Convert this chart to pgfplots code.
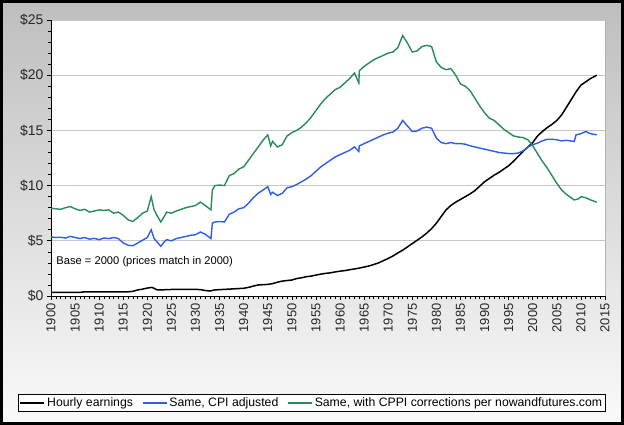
\documentclass[border=0pt]{standalone}
\usepackage{fontspec}
\setmainfont{Liberation Sans}
\usepackage{pgfplots}
\usepackage{pgfplotstable}
\pgfplotsset{compat=1.18}

\definecolor{earn}{RGB}{0,0,0}
\definecolor{cpi}{RGB}{45,95,230}
\definecolor{cppi}{RGB}{40,140,90}

% hourly earnings, base 2000
\pgfplotstableread{
year val
1900 0.32
1906 0.33
1907 0.38
1916 0.38
1917 0.42
1918 0.55
1919 0.62
1920 0.72
1921 0.78
1922 0.56
1923 0.55
1924 0.58
1926 0.60
1930 0.60
1931 0.58
1932 0.50
1933 0.45
1934 0.55
1936 0.60
1938 0.65
1940 0.70
1941 0.78
1942 0.90
1943 1.00
1945 1.05
1946 1.12
1947 1.25
1948 1.35
1949 1.40
1950 1.45
1951 1.58
1952 1.65
1953 1.75
1954 1.80
1955 1.90
1956 1.98
1957 2.05
1958 2.10
1959 2.18
1960 2.25
1961 2.30
1962 2.38
1963 2.45
1964 2.53
1965 2.62
1966 2.72
1967 2.85
1968 3.00
1969 3.20
1970 3.40
1971 3.63
1972 3.90
1973 4.15
1974 4.45
1975 4.75
1976 5.05
1977 5.35
1978 5.70
1979 6.10
1980 6.60
1981 7.20
1982 7.80
1983 8.20
1984 8.50
1985 8.75
1986 9.00
1987 9.25
1988 9.55
1989 9.95
1990 10.35
1991 10.65
1992 10.95
1993 11.20
1994 11.50
1995 11.80
1996 12.20
1997 12.65
1998 13.10
1999 13.50
2000 13.90
2001 14.50
2002 14.90
2003 15.25
2004 15.55
2005 15.90
2006 16.40
2007 17.10
2008 17.80
2009 18.50
2010 19.10
2011 19.40
2012 19.70
2013.3 20.00
}\earnings

% same, CPI adjusted
\pgfplotstableread{
year val
1900 5.35
1901 5.30
1902 5.32
1903 5.25
1904 5.40
1905 5.30
1906 5.20
1907 5.30
1908 5.15
1909 5.22
1910 5.10
1911 5.25
1912 5.20
1913 5.30
1914 5.20
1915 4.80
1916 4.60
1917 4.55
1918 4.80
1919 5.05
1920 5.30
1920.8 6.00
1921.4 5.20
1922 4.90
1922.8 4.50
1923.5 4.90
1924 5.10
1925 5.00
1926 5.20
1927 5.30
1928 5.40
1929 5.50
1930 5.55
1931 5.80
1932 5.60
1933.2 5.20
1933.5 6.60
1934 6.70
1935 6.75
1936 6.70
1937 7.40
1938 7.60
1939 7.90
1940 8.00
1941 8.40
1942 8.90
1943 9.30
1944 9.60
1945 9.90
1945.6 9.20
1946 9.40
1947 9.10
1948 9.30
1949 9.80
1950 9.90
1951 10.10
1952 10.35
1953 10.60
1954 10.90
1955 11.30
1956 11.70
1957 12.00
1958 12.30
1959 12.60
1960 12.80
1961 13.00
1962 13.20
1963 13.50
1963.9 13.10
1964 13.60
1965 13.80
1966 14.00
1967 14.20
1968 14.40
1969 14.60
1970 14.75
1971 14.85
1972 15.20
1973 15.90
1974 15.40
1975 14.90
1976 14.95
1977 15.20
1978 15.30
1979 15.20
1980 14.30
1981 13.90
1982 13.80
1983 13.90
1984 13.80
1985 13.80
1986 13.75
1987 13.60
1988 13.50
1989 13.40
1990 13.30
1991 13.20
1992 13.10
1993 13.00
1994 12.95
1995 12.90
1996 12.90
1997 12.95
1998 13.15
1999 13.50
2000 13.70
2001 13.85
2002 14.05
2003 14.20
2004 14.20
2005 14.15
2006 14.05
2007 14.10
2008.6 14.00
2009 14.60
2010 14.70
2011 14.90
2012 14.70
2013.3 14.60
}\cpiadj

% same, with CPPI corrections
\pgfplotstableread{
year val
1900 7.95
1901 7.90
1902 7.85
1903 8.00
1904 8.10
1905 7.90
1906 7.75
1907 7.85
1908 7.60
1909 7.70
1910 7.80
1911 7.75
1912 7.80
1913 7.50
1914 7.60
1915 7.30
1916 6.90
1917 6.75
1918 7.10
1919 7.50
1920 7.70
1920.8 9.00
1921.4 7.80
1922 7.30
1922.8 6.70
1923.5 7.20
1924 7.60
1925 7.50
1926 7.70
1927 7.85
1928 8.00
1929 8.10
1930 8.20
1931 8.50
1932 8.20
1933.2 7.80
1933.5 9.60
1934 10.00
1935 10.05
1936 10.00
1937 10.90
1938 11.10
1939 11.50
1940 11.70
1941 12.30
1942 12.90
1943 13.50
1944 14.10
1945 14.60
1945.6 13.60
1946 14.00
1947 13.50
1948 13.70
1949 14.50
1950 14.80
1951 15.00
1952 15.30
1953 15.70
1954 16.20
1955 16.80
1956 17.40
1957 17.90
1958 18.30
1959 18.70
1960 18.90
1961 19.30
1962 19.70
1963 20.20
1963.9 19.30
1964 20.40
1965 20.80
1966 21.10
1967 21.40
1968 21.60
1969 21.80
1970 22.00
1971 22.10
1972 22.50
1973 23.60
1974 22.90
1975 22.10
1976 22.20
1977 22.60
1978 22.70
1979 22.60
1980 21.20
1981 20.70
1982 20.50
1983 20.60
1984 20.00
1985 19.20
1986 19.00
1987 18.60
1988 17.90
1989 17.20
1990 16.60
1991 16.10
1992 15.90
1993 15.50
1994 15.10
1995 14.80
1996 14.50
1997 14.40
1998 14.35
1999 14.15
2000 13.60
2001 12.90
2002 12.20
2003 11.60
2004 10.90
2005 10.20
2006 9.60
2007 9.20
2008.6 8.70
2009.5 8.80
2010 9.00
2011 8.90
2012 8.70
2013.3 8.50
}\cppiadj

\begin{document}
\begin{tikzpicture}
\path[use as bounding box] (0,0) rectangle (624bp,425bp);
\shade[top color={rgb,255:red,190;green,190;blue,190}, bottom color={rgb,255:red,250;green,250;blue,250}]
  (0,0) rectangle (624bp,425bp);
\draw[black, line width=3bp] (1.5bp,1.5bp) rectangle (622.5bp,423.5bp);
\begin{axis}[
  at={(51bp,129bp)}, anchor=south west,
  width=554bp, height=276bp, scale only axis,
  xmin=1900, xmax=2015, ymin=0, ymax=25,
  xtick distance=5, minor x tick num=4,
  ytick distance=5, minor y tick num=4,
  axis lines*=left,
  axis line style={black, line width=0.8bp},
  axis background/.style={fill=white, draw=gray!60},
  tick align=outside,
  major tick length=4bp, minor tick length=3bp,
  tick style={black, line width=0.6bp},
  ymajorgrids, grid style={gray!45, line width=0.6bp},
  /pgf/number format/assume math mode=true,
  xticklabel style={rotate=90, anchor=east, font=\fontsize{13}{15}\selectfont,
    text=black!85, /pgf/number format/1000 sep={}},
  xticklabel={\pgfmathprintnumber{\tick}\hspace{4bp}},
  yticklabel style={font=\fontsize{14}{16}\selectfont, text=black!85},
  yticklabel={\$\pgfmathprintnumber{\tick}\hspace{7bp}},
  legend style={at={(0.471,-0.388)}, anchor=center, legend columns=-1,
    draw=black, line width=0.8bp, fill=white, inner sep=1.5bp,
    font=\fontsize{12.3}{14}\selectfont,
    /tikz/every even column/.append style={column sep=7bp}},
  legend image code/.code={\draw[#1] (0bp,0bp) -- (24bp,0bp);},
]
\addplot[earn, line width=1.5bp] table[x=year, y=val] {\earnings};
\addplot[cpi, line width=1.4bp] table[x=year, y=val] {\cpiadj};
\addplot[cppi, line width=1.4bp] table[x=year, y=val] {\cppiadj};
\legend{Hourly earnings, {Same, CPI adjusted}, {Same, with CPPI corrections per nowandfutures.com}}
\node[anchor=west, font=\fontsize{11.2}{13}\selectfont] at (axis cs:1900.4,3.1) {Base = 2000 (prices match in 2000)};
\end{axis}
\end{tikzpicture}
\end{document}
